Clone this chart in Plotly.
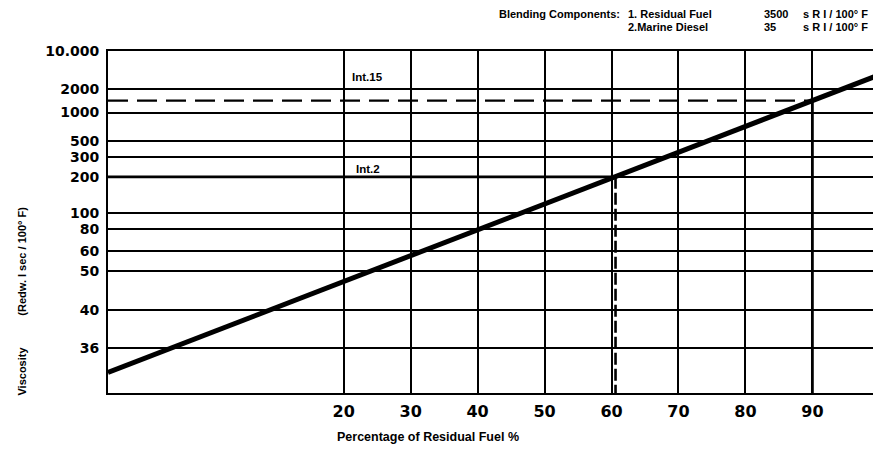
import plotly.graph_objects as go

# ---- data ----
# y axis: blending-chart index (0 = bottom frame, 100 = top frame) and viscosity tick labels
visc_labels = ["10.000", "2000", "1000", "500", "300", "200", "100", "80", "60", "50", "40", "36"]
visc_index = [100, 88.9, 82.0, 73.6, 69.0, 63.2, 52.6, 48.0, 41.5, 35.6, 24.2, 13.1]

# x axis: percentage of residual fuel
pct_ticks = [20, 30, 40, 50, 60, 70, 80, 90]
pct_labels = ["20", "30", "40", "50", "60", "70", "80", "90"]
pct_range = [-15.2, 99.8]

# blending line (chart index at the two ends of the chart)
blend_pct = [-15.2, 99.8]
blend_index = [6.0, 92.9]

# intermediate product 15 (dashed) and intermediate product 2
int15_index = 85.5
int15_pct = 90
int2_index = 63.2
int2_pct = 60.6

# page layout (page pixels; the page body adds an 8px offset to the figure)
OFF = 8
PAGE_W, PAGE_H = 881, 452
PLOT_L, PLOT_R, PLOT_T, PLOT_B = 108, 878, 51, 393.5
W, H = PAGE_W - OFF, PAGE_H - OFF


def px_x(px):
    return (px - PLOT_L) / (PLOT_R - PLOT_L)


def px_y(py):
    return (PLOT_B - py) / (PLOT_B - PLOT_T)


FONT = "DejaVu Sans"
SMALL = "Liberation Sans"

fig = go.Figure()

# Int.2 horizontal (heavier segment) and vertical dashed drop
fig.add_trace(go.Scatter(x=[pct_range[0], int2_pct], y=[int2_index, int2_index], mode="lines",
                         line=dict(color="black", width=2.6), hoverinfo="skip", showlegend=False))
fig.add_trace(go.Scatter(x=[int2_pct, int2_pct], y=[int2_index, 0], mode="lines",
                         line=dict(color="black", width=2.6, dash="12px,4px"), hoverinfo="skip", showlegend=False))

# Int.15 dashed horizontal and vertical drop at 90 %
fig.add_trace(go.Scatter(x=[pct_range[0], int15_pct], y=[int15_index, int15_index], mode="lines",
                         line=dict(color="black", width=2.4, dash="20px,9px"), hoverinfo="skip", showlegend=False))
fig.add_trace(go.Scatter(x=[int15_pct, int15_pct], y=[int15_index, 0], mode="lines",
                         line=dict(color="black", width=2.8), hoverinfo="skip", showlegend=False))

# blending line
fig.add_trace(go.Scatter(x=blend_pct, y=blend_index, mode="lines",
                         line=dict(color="black", width=5), hoverinfo="skip", showlegend=False,
                         cliponaxis=False))

fig.update_layout(
    width=W, height=H,
    margin=dict(l=PLOT_L - OFF, r=PAGE_W - PLOT_R, t=PLOT_T - OFF, b=PAGE_H - PLOT_B),
    paper_bgcolor="white", plot_bgcolor="white",
    showlegend=False,
    xaxis=dict(range=pct_range, tickmode="array", tickvals=pct_ticks, ticktext=pct_labels,
               showgrid=True, gridcolor="black", gridwidth=2, zeroline=False,
               showline=True, linecolor="black", linewidth=2, mirror=True,
               ticks="", ticklabelstandoff=3, automargin=False,
               tickfont=dict(family=FONT, size=16, color="black", weight="bold")),
    yaxis=dict(range=[0, 100], tickmode="array", tickvals=visc_index, ticktext=visc_labels,
               showgrid=True, gridcolor="black", gridwidth=1.5, zeroline=False,
               showline=True, linecolor="black", linewidth=2, mirror=True,
               ticks="", ticklabelstandoff=4, automargin=False,
               tickfont=dict(family=FONT, size=14, color="black", weight="bold")),
)


def ann(text, px, py, size=11, anchor="left", family=SMALL, angle=0):
    fig.add_annotation(text=text, xref="paper", yref="paper", x=px_x(px), y=px_y(py),
                       xanchor=anchor, yanchor="middle", showarrow=False, textangle=angle,
                       font=dict(family=family, size=size, color="black", weight="bold"))


# header
ann("Blending Components:", 622, 14, anchor="right")
ann("1. Residual Fuel", 626, 14)
ann("3500", 762, 14)
ann("s R I / 100° F", 801, 14)
ann("2.Marine Diesel", 626, 27)
ann("35", 762, 27)
ann("s R I / 100° F", 801, 27)

# line labels
ann("Int.15", 350, 77, size=11.5)
ann("Int.2", 354, 169, size=11.5)

# axis titles
ann("Percentage of Residual Fuel %", 335, 438, size=12.5)
ann("Viscosity", 22, 372, size=11, anchor="center", angle=-90)
ann("(Redw. I sec / 100° F)", 22, 262, size=11, anchor="center", angle=-90)

fig.write_html("out.html")
